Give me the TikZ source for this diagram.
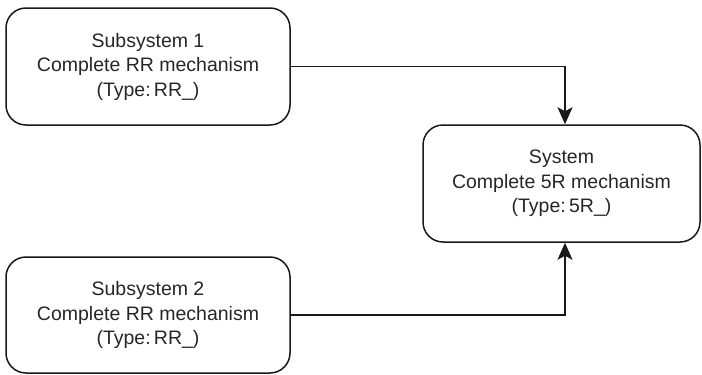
\documentclass[tikz,border=0pt]{standalone}
\usepackage{fontspec}
\setmainfont{Liberation Sans}
\usetikzlibrary{arrows.meta}
\begin{document}
\begin{tikzpicture}[x=1pt,y=-1pt,
  blockbox/.style={draw=black!90, line width=1.5pt, rounded corners=20pt,
    align=center, inner sep=0pt, text=black!85,
    font=\fontsize{19.5}{24.5}\selectfont},
  link/.style={draw=black!90, line width=1.5pt,
    -{Stealth[length=17pt,width=15pt,inset=4pt]}}]
  \useasboundingbox (0,0) rectangle (702,375);
  \node[blockbox, minimum width=284pt, minimum height=117pt] (sub1) at (148,66.5)
    {Subsystem 1\\Complete RR mechanism\\(Type:\,RR\_)};
  \node[blockbox, minimum width=284pt, minimum height=116pt] (sub2) at (148,315)
    {Subsystem 2\\Complete RR mechanism\\(Type:\,RR\_)};
  \node[blockbox, minimum width=277pt, minimum height=117pt] (sys) at (561.5,183.5)
    {System\\Complete 5R mechanism\\(Type:\,5R\_)};
  \draw[link] (sub1.east) -| ([xshift=3.5pt]sys.north);
  \draw[link] (sub2.east) -| ([xshift=3.5pt]sys.south);
\end{tikzpicture}
\end{document}
